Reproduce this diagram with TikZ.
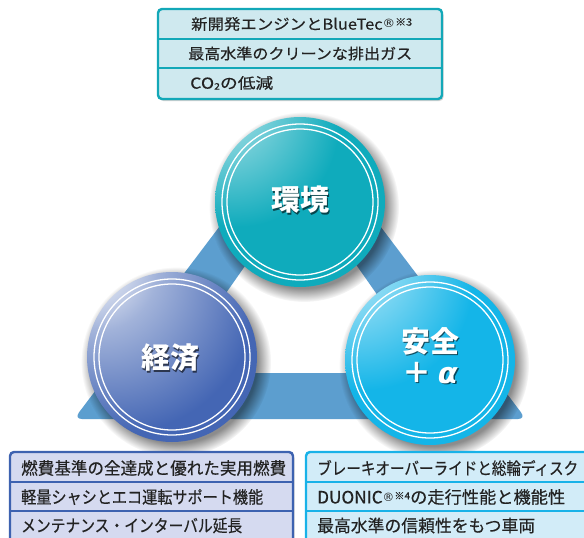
\documentclass[tikz,border=0pt]{standalone}
\usepackage{fontspec}
\usepackage{graphicx}
\setmainfont{Noto Sans CJK JP}
\newfontfamily\jp{Noto Sans CJK JP}[FakeBold=0.35]
\newfontfamily\jpb{Noto Sans CJK JP}
\newfontfamily\dvs{DejaVu Sans}
\usetikzlibrary{fadings}
\definecolor{tealc}{HTML}{0FABBC}
\definecolor{bluec}{HTML}{4466B4}
\definecolor{cyanc}{HTML}{14B5E8}
\definecolor{tric}{HTML}{5C9ECF}
\definecolor{topfill}{HTML}{CFE9EF}
\definecolor{topline}{HTML}{13A8B8}
\definecolor{lfill}{HTML}{D5DAF0}
\definecolor{lline}{HTML}{3D62B0}
\definecolor{rfill}{HTML}{D2ECF8}
\definecolor{rline}{HTML}{18B2E8}
\definecolor{txtc}{HTML}{222222}
\pgfdeclareradialshading{tealball}{\pgfpoint{-28bp}{34bp}}{color(0bp)=(white); color(4bp)=(white); color(13bp)=(tealc!55!white); color(30bp)=(tealc); color(90bp)=(tealc)}
\pgfdeclareradialshading{blueball}{\pgfpoint{-28bp}{32bp}}{color(0bp)=(white); color(4bp)=(white); color(18bp)=(bluec!50!white); color(40bp)=(bluec); color(90bp)=(bluec)}
\pgfdeclareradialshading{cyanball}{\pgfpoint{-30bp}{36bp}}{color(0bp)=(white); color(4bp)=(white); color(14bp)=(cyanc!50!white); color(32bp)=(cyanc); color(90bp)=(cyanc)}
\newcommand\fw[2]{\resizebox{#1pt}{\height}{#2}}
\newcommand\supr[1]{\raisebox{2pt}{\dvs\fontsize{11.5}{12}\selectfont ®}\raisebox{4pt}{\fontsize{10}{10}\selectfont ※#1}}
\begin{document}
\begin{tikzpicture}[x=1pt,y=-1pt,
  ball/.style={circle, inner sep=0pt, minimum size=170pt},
  ring/.style={white, line width=1.3pt},
  bigtxt/.style={text=white, font=\jpb\bfseries\fontsize{29}{32}\selectfont, inner sep=0pt},
  bigshd/.style={text=black, text opacity=0.6, font=\jpb\bfseries\fontsize{29}{32}\selectfont, inner sep=0pt},
  toprow/.style={anchor=west, inner sep=0pt, text=txtc, font=\jp\fontsize{15}{17}\selectfont},
  botrow/.style={anchor=west, inner sep=0pt, text=txtc, font=\jp\fontsize{17}{19}\selectfont},
  boxshadow/.style={preaction={fill=black, fill opacity=0.18, transform canvas={shift={(1.5pt,-2pt)}}}},
  topbox/.style={draw=topline, fill=topfill, line width=2.4pt, rounded corners=4pt, inner sep=0pt, boxshadow},
  lbox/.style={draw=lline, fill=lfill, line width=2.4pt, rounded corners=4pt, inner sep=0pt, boxshadow},
  rbox/.style={draw=rline, fill=rfill, line width=2.4pt, rounded corners=4pt, inner sep=0pt, boxshadow},
  shd/.style={black, opacity=0.45, path fading=circle with fuzzy edge 15 percent}
]
\useasboundingbox (0,0) rectangle (584,538);
\fill[white] (0,0) rectangle (584,538);

% triangle band
\fill[tric, rounded corners=8pt, even odd rule]
  (300,120) -- (74,419) -- (526,419) -- cycle
  (301,186) -- (432,373) -- (170,373) -- cycle;

% circle shadows
\fill[shd] (304,207) circle (95);
\fill[shd] (176,362) circle (95);
\fill[shd] (434,365) circle (95);

% circles
\node[ball, shading=tealball] (env) at (300,202) {};
\node[ball, shading=blueball] (eco) at (172,357) {};
\node[ball, shading=cyanball] (saf) at (430,360) {};
\foreach \c in {env,eco,saf}{
  \draw[ring] (\c.center) circle (78);
  \draw[ring] (\c.center) circle (73);
}

% labels
\node[bigshd] (envs) at (301.5,201.5) {環境};
\node[bigtxt] (envt) at (300,200) {環境};
\node[bigshd] (ecos) at (171.5,359.5) {経済};
\node[bigtxt] (ecot) at (170,358) {経済};
\node[bigshd] (safs) at (431.5,342.5) {安全};
\node[bigtxt] (saft) at (430,341) {安全};
\node[bigshd] (alps) at (431.5,374.5) {＋ {\dvs\bfseries\itshape α}};
\node[bigtxt] (alpt) at (430,373) {＋ {\dvs\bfseries\itshape α}};

% top box
\node[topbox, minimum width=284pt, minimum height=90pt] (tb) at (300,54) {};
\draw[topline, line width=2pt] (158,39) -- (442,39);
\draw[topline, line width=2pt] (158,68) -- (442,68);
\node[toprow] (t1) at (191,24) {\fw{221}{新開発エンジンとBlueTec\supr{3}}};
\node[toprow] (t2) at (188,53.5) {\fw{224}{最高水準のクリーンな排出ガス}};
\node[toprow] (t3) at (190,83) {\fw{83}{CO\raisebox{-1pt}{\fontsize{9}{9}\selectfont 2}の低減}};

% bottom-left box
\node[lbox, minimum width=283pt, minimum height=110pt] (lb) at (151.5,507) {};
\draw[lline, line width=2pt] (10,482) -- (293,482);
\draw[lline, line width=2pt] (10,511) -- (293,511);
\node[botrow] (l1) at (21,468) {\fw{265}{燃費基準の全達成と優れた実用燃費}};
\node[botrow] (l2) at (21,497) {\fw{242}{軽量シャシとエコ運転サポート機能}};
\node[botrow] (l3) at (21,525.5) {\fw{221}{メンテナンス・インターバル延長}};

% bottom-right box
\node[rbox, minimum width=294pt, minimum height=110pt] (rb) at (453,507) {};
\draw[rline, line width=2pt] (306,482) -- (600,482);
\draw[rline, line width=2pt] (306,511) -- (600,511);
\node[botrow] (r1) at (317,468) {\fw{261}{ブレーキオーバーライドと総輪ディスク}};
\node[botrow] (r2) at (317,497) {\fw{248}{DUONIC\supr{4}の走行性能と機能性}};
\node[botrow] (r3) at (317,525.5) {\fw{218}{最高水準の信頼性をもつ車両}};
\end{tikzpicture}
\end{document}
